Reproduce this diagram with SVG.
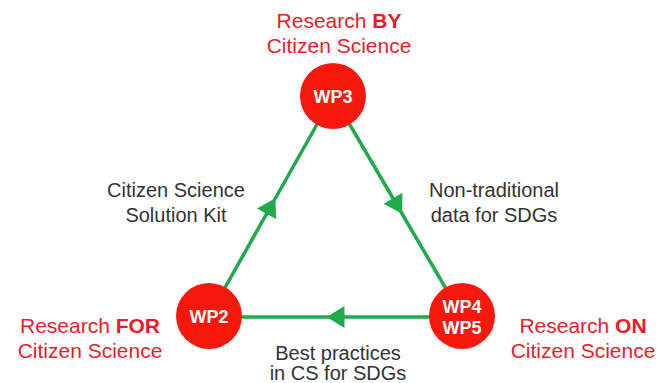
<svg xmlns="http://www.w3.org/2000/svg" width="662" height="383" viewBox="0 0 662 383">
<style>
.red{font-family:"Liberation Sans",Arial,sans-serif;font-size:21px;fill:#ec1c2a;text-anchor:middle}
.red tspan.b{font-weight:bold}
.dark{font-family:"Liberation Sans",Arial,sans-serif;font-size:20px;fill:#333333;text-anchor:middle}
.wp{font-family:"Liberation Sans",Arial,sans-serif;font-size:18px;font-weight:bold;fill:#ffffff;text-anchor:middle}
.node{fill:#f7180c}
.edge{fill:none;stroke:#1eab4b;stroke-width:3.5}
</style>
<defs>
<marker id="arr" viewBox="0 0 18 22" refX="9" refY="11" markerWidth="18" markerHeight="22" markerUnits="userSpaceOnUse" orient="auto">
<path d="M0,0 L18,11 L0,22 z" fill="#1eab4b"/>
</marker>
</defs>
<rect width="662" height="383" fill="#ffffff"/>
<g id="connectors">
<path class="edge" d="M209,316 L271,206 L333,96" marker-mid="url(#arr)"/>
<path class="edge" d="M333,96 L397.5,206 L462,316" marker-mid="url(#arr)"/>
<path class="edge" d="M462,317 L335.5,317 L209,317" marker-mid="url(#arr)"/>
</g>
<g id="wp3">
<circle class="node" cx="333" cy="96" r="33"/>
<text class="wp" x="333" y="103">WP3</text>
</g>
<g id="wp2">
<circle class="node" cx="209" cy="316" r="33"/>
<text class="wp" x="209" y="323">WP2</text>
</g>
<g id="wp45">
<circle class="node" cx="462" cy="316" r="33"/>
<text class="wp" x="462" y="313">WP4</text>
<text class="wp" x="462" y="334">WP5</text>
</g>
<g id="label-by">
<text class="red" x="339" y="28">Research <tspan class="b">BY</tspan></text>
<text class="red" x="339" y="53">Citizen Science</text>
</g>
<g id="label-for">
<text class="red" x="90" y="333">Research <tspan class="b">FOR</tspan></text>
<text class="red" x="90" y="358">Citizen Science</text>
</g>
<g id="label-on">
<text class="red" x="583" y="333">Research <tspan class="b">ON</tspan></text>
<text class="red" x="583" y="358">Citizen Science</text>
</g>
<g id="label-kit">
<text class="dark" x="176" y="197">Citizen Science</text>
<text class="dark" x="176" y="222">Solution Kit</text>
</g>
<g id="label-data">
<text class="dark" x="494" y="197">Non-traditional</text>
<text class="dark" x="494" y="222">data for SDGs</text>
</g>
<g id="label-best">
<text class="dark" x="338" y="360">Best practices</text>
<text class="dark" x="338" y="380">in CS for SDGs</text>
</g>
</svg>
